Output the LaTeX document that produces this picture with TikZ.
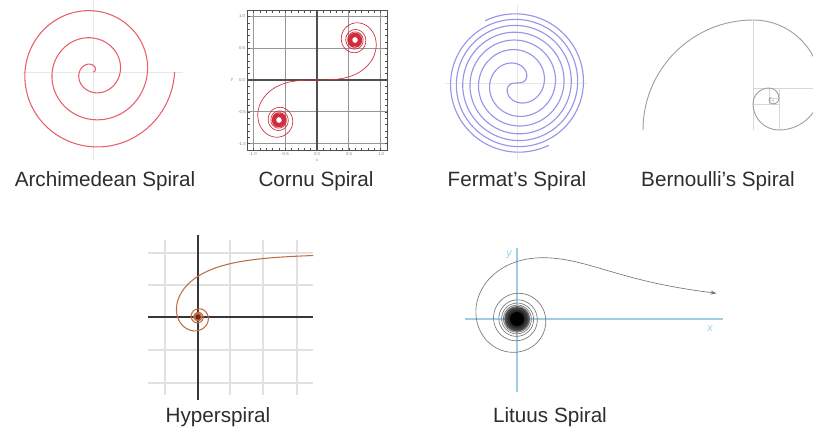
\documentclass[tikz,border=0pt]{standalone}
\usepackage{fontspec}
\setmainfont{Liberation Sans}
\usetikzlibrary{arrows.meta}
\definecolor{txt}{RGB}{45,45,45}
\definecolor{archred}{RGB}{232,95,105}
\definecolor{faintgray}{RGB}{232,232,232}
\definecolor{cornured}{RGB}{205,45,60}
\definecolor{cgridc}{RGB}{150,150,150}
\definecolor{caxisc}{RGB}{80,80,80}
\definecolor{fermblue}{RGB}{150,150,232}
\definecolor{bgray}{RGB}{160,160,160}
\definecolor{bsq}{RGB}{215,215,215}
\definecolor{hypc}{RGB}{190,110,70}
\definecolor{hypdark}{RGB}{120,35,20}
\definecolor{axdark}{RGB}{55,55,55}
\definecolor{litblue}{RGB}{160,205,228}
\definecolor{litgray}{RGB}{120,120,120}
\definecolor{gridgray}{RGB}{225,225,225}
\begin{document}
\begin{tikzpicture}[x=0.75pt,y=-0.75pt,
  lbl/.style={font=\fontsize{15.5}{18}\selectfont, text=txt, inner sep=0pt, anchor=base},
  ticklbl/.style={font=\fontsize{3.2}{4}\selectfont, text=gray, inner sep=0pt},
  cgrid/.style={cgridc, line width=0.5pt},
  declare function={
    fresf(\z)=(1+0.926*\z)/(2+1.792*\z+3.104*\z*\z);
    fresg(\z)=1/(2+4.142*\z+3.492*\z*\z+6.670*\z*\z*\z);
    fresC(\z)=0.5+fresf(\z)*sin(90*\z*\z)-fresg(\z)*cos(90*\z*\z);
    fresS(\z)=0.5-fresf(\z)*cos(90*\z*\z)-fresg(\z)*sin(90*\z*\z);
  }]
\useasboundingbox (0,0) rectangle (813,430);
\clip (0,0) rectangle (813,430);

% ---------- Archimedean spiral
\draw[faintgray, line width=0.6pt] (23,72) -- (183,72) (93,0) -- (93,160);
\begin{scope}[shift={(93,72)}, yscale=-1]
  \draw[archred, line width=0.8pt] plot[domain=0:18.85, samples=450, variable=\t]
    ({4.33*\t*cos(deg(\t))},{4.33*\t*sin(deg(\t))});
\end{scope}
\node[lbl] (archlbl) at (105,186) {Archimedean Spiral};

% ---------- Cornu spiral
\foreach \v in {-1,-0.5,0.5,1} {
  \draw[cgrid] ({317+63.5*\v},10) -- ({317+63.5*\v},150);
  \draw[cgrid] (247,{80-63.5*\v}) -- (387,{80-63.5*\v});
}
\draw[caxisc, line width=0.8pt] (317,10) -- (317,150) (247,80) -- (387,80);
\draw[caxisc, line width=0.6pt] (247,10) rectangle (387,150);
\foreach \k in {-10,...,10} {
  \draw[caxisc, line width=0.3pt] ({317+6.35*\k},10) -- ({317+6.35*\k},12.5)
        ({317+6.35*\k},150) -- ({317+6.35*\k},147.5)
        (247,{80+6.35*\k}) -- (249.5,{80+6.35*\k})
        (387,{80+6.35*\k}) -- (384.5,{80+6.35*\k});
}
\node[ticklbl] (cy1) at (242,16) {1.0};
\node[ticklbl] (cy2) at (242,48) {0.5};
\node[ticklbl] (cy3) at (242,80) {0.0};
\node[ticklbl] (cy4) at (242,112) {-0.5};
\node[ticklbl] (cy5) at (242,144) {-1.0};
\node[ticklbl] (cx1) at (253,154) {-1.0};
\node[ticklbl] (cx2) at (285,154) {-0.5};
\node[ticklbl] (cx3) at (317,154) {0.0};
\node[ticklbl] (cx4) at (349,154) {0.5};
\node[ticklbl] (cx5) at (381,154) {1.0};
\node[ticklbl] (cxl) at (317,160) {x};
\node[ticklbl] (cyl) at (232,80) {y};
\begin{scope}[shift={(317,80)}, yscale=-1]
  \draw[cornured, line width=0.5pt] plot[domain=0:64, samples=1000, variable=\u]
    ({76*fresC(sqrt(\u))},{80*fresS(sqrt(\u))});
  \draw[cornured, line width=0.5pt] plot[domain=0:64, samples=1000, variable=\u]
    ({-76*fresC(sqrt(\u))},{-80*fresS(sqrt(\u))});
\end{scope}
\node[lbl] (cornulbl) at (316,186) {Cornu Spiral};

% ---------- Fermat spiral
\draw[faintgray, line width=0.6pt] (445,83) -- (588,83) (517,5) -- (517,160);
\begin{scope}[shift={(517,83)}, yscale=-1]
  \draw[fermblue, line width=0.85pt] plot[domain=0:20.9, samples=500, variable=\t]
    ({15.3*sqrt(\t)*cos(deg(\t))},{15.3*sqrt(\t)*sin(deg(\t))});
  \draw[fermblue, line width=0.85pt] plot[domain=0:20.9, samples=500, variable=\t]
    ({-15.3*sqrt(\t)*cos(deg(\t))},{-15.3*sqrt(\t)*sin(deg(\t))});
\end{scope}
\node[lbl] (fermlbl) at (517,186) {Fermat's Spiral};

% ---------- Bernoulli (logarithmic) spiral
\draw[bsq, line width=0.6pt] (753,20) -- (753,130) (753,88) -- (813,88)
  (779,88) -- (779,130) (753,104) -- (779,104) (769,88) -- (769,104)
  (769,98) -- (779,98) (773,98) -- (773,104) (769,100) -- (773,100);
\draw[bgray, line width=0.7pt] (643,130)
  arc[start angle=180, end angle=270, radius=110]
  arc[start angle=270, end angle=360, radius=68]
  arc[start angle=0, end angle=90, radius=42]
  arc[start angle=90, end angle=180, radius=26]
  arc[start angle=180, end angle=270, radius=16]
  arc[start angle=270, end angle=360, radius=10]
  arc[start angle=0, end angle=90, radius=6]
  arc[start angle=90, end angle=180, radius=4]
  arc[start angle=180, end angle=270, radius=2.4];
\node[lbl] (bernlbl) at (718,186) {Bernoulli's Spiral};

% ---------- Hyperspiral
\foreach \gx in {165,230,263,297} \draw[gridgray, line width=0.8pt] (\gx,240) -- (\gx,395);
\foreach \gy in {253,285,350,383} \draw[gridgray, line width=0.8pt] (148,\gy) -- (313,\gy);
\draw[axdark, line width=1.3pt] (198,235) -- (198,400) (148,317) -- (313,317);
\begin{scope}[shift={(198,317)}, yscale=-1]
  \draw[hypc, line width=0.8pt] plot[domain=0.49:4, samples=160, variable=\t]
    ({64*cos(deg(\t))/\t},{64*sin(deg(\t))/\t})
    -- plot[domain=4:40, samples=600, variable=\t]
    ({64*cos(deg(\t))/\t},{64*sin(deg(\t))/\t});
  \fill[hypdark] (0,0) circle[radius=2.6];
\end{scope}
\node[lbl] (hyplbl) at (218,422) {Hyperspiral};

% ---------- Lituus spiral
\draw[litblue, line width=0.8pt] (517,248) -- (517,392) (465,319) -- (723,319);
\node[font=\itshape\fontsize{8}{9}\selectfont, text=litblue, inner sep=0pt] (litylbl) at (509,255) {y};
\node[font=\itshape\fontsize{8}{9}\selectfont, text=litblue, inner sep=0pt] (litxlbl) at (710,329) {x};
\begin{scope}[shift={(517,319)}, yscale=-1]
  \draw[litgray, line width=0.5pt, {Stealth[length=4.5pt,width=3pt]}-] plot[domain=0.128:3, samples=120, variable=\t]
    ({72*cos(deg(\t))/sqrt(\t)},{72*sin(deg(\t))/sqrt(\t)})
    -- plot[domain=3:150, samples=1200, variable=\t]
    ({72*cos(deg(\t))/sqrt(\t)},{72*sin(deg(\t))/sqrt(\t)});
  \foreach \r in {8,...,13} \fill[black, opacity=0.18] (0,0) circle[radius=\r];
  \fill[black] (0,0) circle[radius=7];
\end{scope}
\node[lbl] (litlbl) at (550,422) {Lituus Spiral};
\end{tikzpicture}
\end{document}
